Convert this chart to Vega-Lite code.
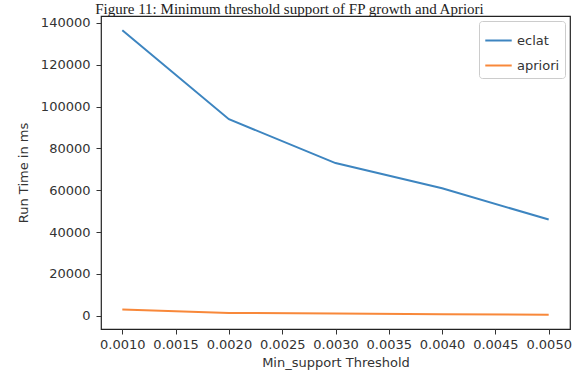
{
  "$schema": "https://vega.github.io/schema/vega-lite/v6.json",
  "width": 469,
  "height": 313,
  "autosize": {"type": "none"},
  "padding": {"left": 101, "top": 16, "right": 8, "bottom": 47},
  "background": "white",
  "title": {
    "text": "Figure 11: Minimum threshold support of FP growth and Apriori",
    "font": "Liberation Serif",
    "fontSize": 15,
    "fontWeight": "normal",
    "color": "#222",
    "anchor": "middle",
    "baseline": "alphabetic",
    "offset": -13,
    "dx": -46
  },
  "data": {
    "values": [
      {"support": 0.001, "time": 136500, "algo": "eclat"},
      {"support": 0.002, "time": 94000, "algo": "eclat"},
      {"support": 0.003, "time": 73000, "algo": "eclat"},
      {"support": 0.004, "time": 61000, "algo": "eclat"},
      {"support": 0.005, "time": 46000, "algo": "eclat"},
      {"support": 0.001, "time": 3000, "algo": "apriori"},
      {"support": 0.002, "time": 1400, "algo": "apriori"},
      {"support": 0.003, "time": 1100, "algo": "apriori"},
      {"support": 0.004, "time": 800, "algo": "apriori"},
      {"support": 0.005, "time": 500, "algo": "apriori"}
    ]
  },
  "mark": {"type": "line", "strokeWidth": 2, "clip": true},
  "encoding": {
    "x": {
      "field": "support",
      "type": "quantitative",
      "title": "Min_support Threshold",
      "scale": {"domain": [0.0008, 0.0052], "nice": false, "zero": false},
      "axis": {
        "values": [0.001, 0.0015, 0.002, 0.0025, 0.003, 0.0035, 0.004, 0.0045, 0.005],
        "format": ".4f",
        "grid": false,
        "domain": false,
        "tickColor": "#333",
        "tickSize": 5,
        "labelFont": "DejaVu Sans",
        "labelFontSize": 13,
        "labelColor": "#333",
        "labelPadding": 4,
        "titleFont": "DejaVu Sans",
        "titleFontSize": 13,
        "titleFontWeight": "normal",
        "titleColor": "#333",
        "titlePadding": 5
      }
    },
    "y": {
      "field": "time",
      "type": "quantitative",
      "title": "Run Time in ms",
      "scale": {"domain": [-6300, 143300], "nice": false, "zero": false},
      "axis": {
        "values": [0, 20000, 40000, 60000, 80000, 100000, 120000, 140000],
        "format": "d",
        "grid": false,
        "domain": false,
        "tickColor": "#333",
        "tickSize": 5,
        "labelFont": "DejaVu Sans",
        "labelFontSize": 13,
        "labelColor": "#333",
        "labelPadding": 6,
        "titleFont": "DejaVu Sans",
        "titleFontSize": 13,
        "titleFontWeight": "normal",
        "titleColor": "#333",
        "titlePadding": 10
      }
    },
    "color": {
      "field": "algo",
      "type": "nominal",
      "scale": {"domain": ["eclat", "apriori"], "range": ["#3d85c0", "#f8883a"]},
      "legend": {
        "title": null,
        "orient": "top-right",
        "offset": 5,
        "symbolType": "stroke",
        "symbolStrokeWidth": 2,
        "symbolSize": 700,
        "labelFont": "DejaVu Sans",
        "labelFontSize": 13,
        "labelColor": "#333",
        "strokeColor": "#ccc",
        "fillColor": "white",
        "padding": 5,
        "cornerRadius": 3,
        "rowPadding": 3
      }
    }
  },
  "config": {
    "view": {"stroke": "#222", "strokeWidth": 1.2}
  }
}
